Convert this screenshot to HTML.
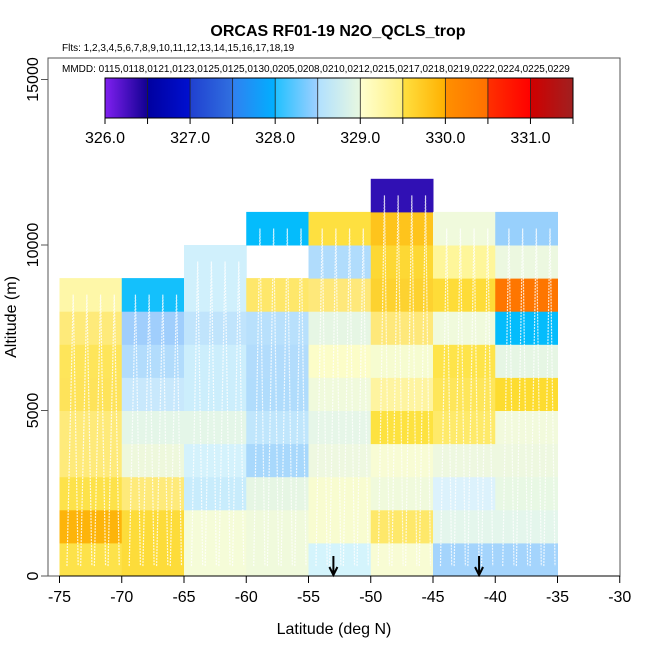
<!DOCTYPE html>
<html><head><meta charset="utf-8"><style>
body{margin:0;background:#fff;font-family:"Liberation Sans",sans-serif}
</style></head><body>
<svg id="c" width="650" height="650" xmlns="http://www.w3.org/2000/svg" font-family="Liberation Sans, sans-serif">
<defs>
<linearGradient id="g0"><stop offset="0" stop-color="#8020f0"/><stop offset="1" stop-color="#100090"/></linearGradient>
<linearGradient id="g1"><stop offset="0" stop-color="#0000a0"/><stop offset="1" stop-color="#0010d0"/></linearGradient>
<linearGradient id="g2"><stop offset="0" stop-color="#2040d0"/><stop offset="1" stop-color="#3070e0"/></linearGradient>
<linearGradient id="g3"><stop offset="0" stop-color="#3080f0"/><stop offset="1" stop-color="#00b0ff"/></linearGradient>
<linearGradient id="g4"><stop offset="0" stop-color="#20c0ff"/><stop offset="1" stop-color="#a0d0ff"/></linearGradient>
<linearGradient id="g5"><stop offset="0" stop-color="#b0e0ff"/><stop offset="1" stop-color="#e8f8e0"/></linearGradient>
<linearGradient id="g6"><stop offset="0" stop-color="#ffffd0"/><stop offset="1" stop-color="#fff080"/></linearGradient>
<linearGradient id="g7"><stop offset="0" stop-color="#ffe040"/><stop offset="1" stop-color="#ffb000"/></linearGradient>
<linearGradient id="g8"><stop offset="0" stop-color="#ff9000"/><stop offset="1" stop-color="#ff7000"/></linearGradient>
<linearGradient id="g9"><stop offset="0" stop-color="#ff3000"/><stop offset="1" stop-color="#ff0000"/></linearGradient>
<linearGradient id="g10"><stop offset="0" stop-color="#d00000"/><stop offset="1" stop-color="#a02020"/></linearGradient>
</defs>
<g id="cells"></g>
<g id="tracks" stroke="#fff" stroke-width="1.2" stroke-dasharray="2 1" fill="none" opacity="0.8"></g>
<rect x="48" y="58" width="572" height="518" fill="none" stroke="#555"/>
<g id="axes" font-size="16" fill="#000"></g>
<text x="338" y="36" text-anchor="middle" font-size="16" font-weight="bold">ORCAS RF01-19 N2O_QCLS_trop</text>
<text x="62" y="51" font-size="10">Flts: 1,2,3,4,5,6,7,8,9,10,11,12,13,14,15,16,17,18,19</text>
<text x="62" y="72" font-size="10">MMDD: 0115,0118,0121,0123,0125,0125,0130,0205,0208,0210,0212,0215,0217,0218,0219,0222,0224,0225,0229</text>
<g id="cbar"></g>
<text x="334" y="634" text-anchor="middle" font-size="16">Latitude (deg N)</text>
<text transform="translate(16,317) rotate(-90)" text-anchor="middle" font-size="16">Altitude (m)</text>
</svg>
<script>
const lats=[-75,-70,-65,-60,-55,-50,-45,-40];
const altBinsKm=[0,1,2,3,4,5,6,7,8,9,10,11];
const cellColors=[
["#fde24a","#fdb40a","#fde24a","#feea7a","#feea7a","#fee35a","#fee55a","#feea7a","#fef7a8"],
["#fddc3a","#fddc3a","#feea7a","#eef8dc","#e4f6e8","#c8e8fc","#b2dcfc","#a0cefc","#14c0fc"],
["#f5fcd8","#f5fcd8","#c8ecfc","#d4f2fc","#e4f6e8","#cceefc","#cceefc","#c0e4fc","#d0f0fc","#d0f0fc"],
["#f0fadc","#f0fadc","#e6f6e4","#a8d8fc","#c0e6fc","#b0dcfc","#b2dcfc","#b8e0fc","#fee76a",null,"#04bcfc"],
["#d4f4fc","#f8fcd0","#f8fcd0","#eef8e0","#e6f6e8","#f0fadc","#fcfdc8","#e6f6e4","#fee87a","#b0dcfc","#fee040"],
["#f8fcd4","#fee86a","#f0fadc","#f8fcd4","#fde240","#fef4a0","#f6fcd0","#fee87a","#fdd230","#fdd834","#fec41c","#3010b4"],
["#a4d4fc","#e4f6ec","#dcf2fc","#eef8e0","#feea6a","#fee65a","#fee44a","#f0fadc","#fedc38","#fef69a","#f0fadc"],
["#a4d4fc","#e4f6ec","#e8f8e4","#eef8e0","#f2fadc","#fddc30","#e6f6e4","#04bcfc","#fe7600","#ecf8e0","#98d0fc"]];
const xTicks=[-75,-70,-65,-60,-55,-50,-45,-40,-35,-30];
const yTicks=[0,5000,10000,15000];
const cbLabels=["326.0","327.0","328.0","329.0","330.0","331.0"];
const arrowLats=[-53,-41.3];
const NS="http://www.w3.org/2000/svg";
const X=v=>59.5+(v+75)*12.45;
const Y=v=>576-v*0.0331;
function mk(t,a,p){const e=document.createElementNS(NS,t);for(const k in a)e.setAttribute(k,a[k]);p.appendChild(e);return e;}
const cells=document.getElementById('cells');
lats.forEach((la,i)=>{cellColors[i].forEach((c,j)=>{if(!c)return;
 const r=mk('rect',{x:X(la),y:Y((altBinsKm[j]+1)*1000),width:X(la+5)-X(la)+0.5,height:Y(altBinsKm[j]*1000)-Y((altBinsKm[j]+1)*1000)+0.5,fill:c},cells);
 
 });});
// a few decorative white track lines
const tr=document.getElementById('tracks');
lats.forEach((la,i)=>{const top=cellColors[i].length*1000;let d='';
 for(let k=0;k<4;k++){const a=la+0.6+k*1.1;d+=`M${X(a)},${Y(300)}L${X(a+0.5)},${Y(top-500)}L${X(a+0.9)},${Y(300)}`;}
 const p=mk('path',{d:d},tr);
 
 });
const ax=document.getElementById('axes');
mk('line',{x1:X(-75),x2:X(-30),y1:576,y2:576,stroke:'#000'},ax);
xTicks.forEach(v=>{mk('line',{x1:X(v),x2:X(v),y1:576,y2:583,stroke:'#000'},ax);
 const t=mk('text',{x:X(v),y:602,'text-anchor':'middle'},ax);t.textContent=v;
 
 });
yTicks.forEach(v=>{mk('line',{x1:41,x2:48,y1:Y(v),y2:Y(v),stroke:'#555'},ax);
 const t=mk('text',{transform:`translate(38,${Y(v)}) rotate(-90)`,'text-anchor':'middle'},ax);t.textContent=v;
 
 });
arrowLats.forEach(v=>{const a=mk('path',{d:`M${X(v)},556V575M${X(v)-4},567L${X(v)},575L${X(v)+4},567`,stroke:'#000','stroke-width':2,fill:'none'},ax);
 
 });
const cb=document.getElementById('cbar');const w=468/11;
for(let i=0;i<11;i++){const r=mk('rect',{x:105+i*w,y:78,width:w+0.3,height:40,fill:`url(#g${i})`},cb);
 
 
 if(i>0)mk('line',{x1:105+i*w,x2:105+i*w,y1:78,y2:118,stroke:'#222','stroke-width':0.8},cb);}
mk('rect',{x:105,y:78,width:468,height:40,fill:'none',stroke:'#000'},cb);
for(let i=0;i<=11;i++)mk('line',{x1:105+i*w,x2:105+i*w,y1:118,y2:124,stroke:'#000'},cb);
cbLabels.forEach((s,i)=>{const t=mk('text',{x:105+i*2*w,y:143,'text-anchor':'middle','font-size':16},cb);t.textContent=s;
 
 });
</script>
</body></html>
